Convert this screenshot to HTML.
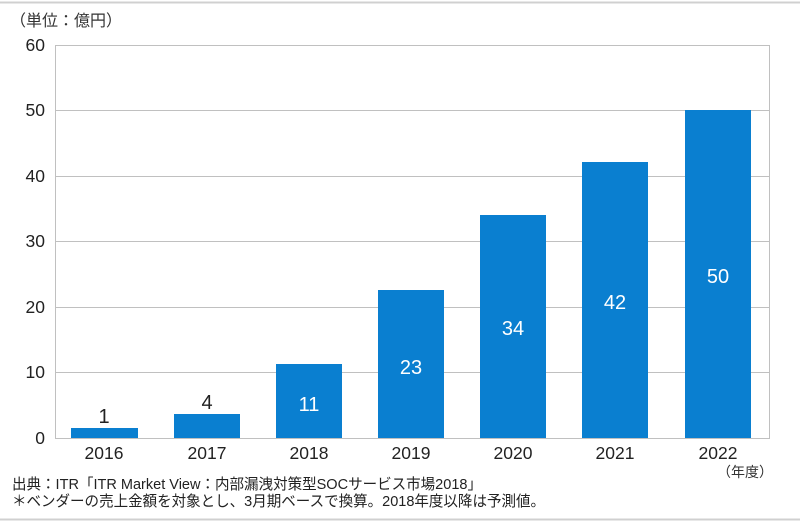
<!DOCTYPE html>
<html><head><meta charset="utf-8"><style>
body{margin:0;background:#fff;}
svg{display:block;font-family:"Liberation Sans","Noto Sans CJK JP",sans-serif;}
</style></head><body>
<svg width="800" height="523" viewBox="0 0 800 523">
<rect x="0" y="0" width="800" height="523" fill="#fff"/>
<line x1="0" y1="2.5" x2="800" y2="2.5" stroke="#d0d0d0" stroke-width="2"/>
<line x1="0" y1="519.5" x2="800" y2="519.5" stroke="#d0d0d0" stroke-width="2"/>
<text x="10" y="26" font-size="16" fill="#333">（単位：億円）</text>
<g stroke="#c0c0c0" stroke-width="1">
<line x1="56" y1="45.5" x2="769" y2="45.5"/>
<line x1="56" y1="110.5" x2="769" y2="110.5"/>
<line x1="56" y1="176.5" x2="769" y2="176.5"/>
<line x1="56" y1="241.5" x2="769" y2="241.5"/>
<line x1="56" y1="307.5" x2="769" y2="307.5"/>
<line x1="56" y1="372.5" x2="769" y2="372.5"/>
<line x1="56" y1="438.5" x2="769" y2="438.5"/>
<line x1="55.5" y1="45" x2="55.5" y2="439"/>
<line x1="769.5" y1="45" x2="769.5" y2="439"/>
</g>
<g font-size="17.5" fill="#222" text-anchor="end">
<text x="45" y="51">60</text><text x="45" y="116">50</text><text x="45" y="182">40</text>
<text x="45" y="247">30</text><text x="45" y="313">20</text><text x="45" y="378">10</text><text x="45" y="444">0</text>
</g>
<g fill="#0a7fd0">
<rect x="71" y="428" width="67" height="10"/>
<rect x="174" y="414" width="66" height="24"/>
<rect x="276" y="364" width="66" height="74"/>
<rect x="378" y="290" width="66" height="148"/>
<rect x="480" y="215" width="66" height="223"/>
<rect x="582" y="162" width="66" height="276"/>
<rect x="685" y="110" width="66" height="328"/>
</g>
<g font-size="20" text-anchor="middle">
<text x="104" y="423" fill="#222">1</text>
<text x="207" y="409" fill="#222">4</text>
<text x="309" y="411" fill="#fff">11</text>
<text x="411" y="374" fill="#fff">23</text>
<text x="513" y="335" fill="#fff">34</text>
<text x="615" y="309" fill="#fff">42</text>
<text x="718" y="283" fill="#fff">50</text>
</g>
<g font-size="17.5" fill="#222" text-anchor="middle">
<text x="104" y="459">2016</text><text x="207" y="459">2017</text><text x="309" y="459">2018</text>
<text x="411" y="459">2019</text><text x="513" y="459">2020</text><text x="615" y="459">2021</text><text x="718" y="459">2022</text>
</g>
<text x="717" y="477" font-size="14" fill="#333">（年度）</text>
<text x="12" y="489" font-size="15" fill="#222" textLength="470" lengthAdjust="spacingAndGlyphs">出典：ITR「ITR Market View：内部漏洩対策型SOCサービス市場2018」</text>
<text x="12" y="506" font-size="15" fill="#222" textLength="533" lengthAdjust="spacingAndGlyphs">＊ベンダーの売上金額を対象とし、3月期ベースで換算。2018年度以降は予測値。</text>
</svg>
</body></html>
